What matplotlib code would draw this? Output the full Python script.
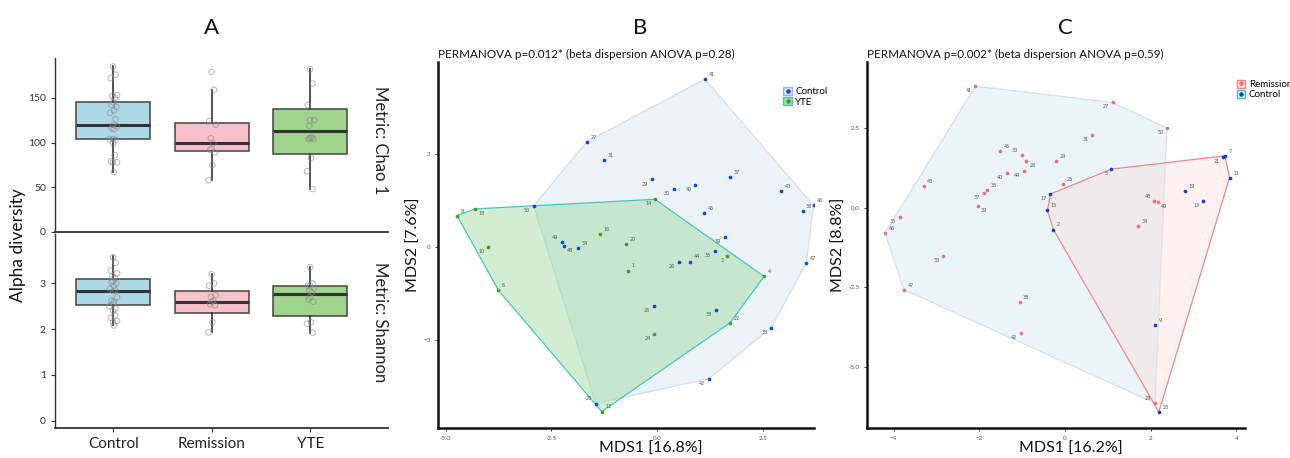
import numpy as np
import matplotlib
matplotlib.use("Agg")
import matplotlib.pyplot as plt
from matplotlib.patches import Patch, Polygon
from matplotlib.lines import Line2D

plt.rcParams['font.family'] = ['Lato', 'DejaVu Sans']

# ---------------- Panel A data ----------------
groups = ["Control", "Remission", "YTE"]
# Chao1 box stats: whislo, q1, med, q3, whishi
chao_stats = {
    "Control":   [66.8, 103.7, 119.7, 145.0, 185.7],
    "Remission": [58.2, 90.6, 99.2, 121.6, 158.8],
    "YTE":       [47.7, 87.6, 113.0, 137.6, 182.7],
}
chao_points = {
    "Control":   [185, 176, 172, 153, 152, 150, 145, 142, 140, 136, 133, 126, 120,
                  118, 116, 115, 104, 104, 103, 99, 86, 79, 78, 78, 67],
    "Remission": [179, 159, 124, 120, 105, 99, 93, 92, 89, 75, 58],
    "YTE":       [182, 166, 142, 125, 119, 106, 105, 104, 104, 83, 68, 48, 125],
}
shan_stats = {
    "Control":   [2.09, 2.52, 2.84, 3.10, 3.60],
    "Remission": [1.93, 2.36, 2.60, 2.83, 3.20],
    "YTE":       [1.91, 2.28, 2.77, 2.95, 3.35],
}
shan_points = {
    "Control":   [3.57, 3.45, 3.28, 3.22, 3.15, 3.12, 3.05, 3.02, 3.0, 2.95, 2.88, 2.85,
                  2.83, 2.7, 2.62, 2.6, 2.55, 2.5, 2.45, 2.4, 2.3, 2.25, 2.18, 2.15, 2.08],
    "Remission": [3.2, 3.0, 2.95, 2.75, 2.7, 2.62, 2.6, 2.55, 2.52, 2.15, 1.93],
    "YTE":       [3.35, 3.0, 2.95, 2.9, 2.85, 2.8, 2.7, 2.65, 2.6, 2.15, 2.12, 1.92, 2.95],
}
jitter_pts = [0.0, 0.03, -0.03, 0.05, -0.01, 0.02, 0.0, -0.02, 0.04, 0.01, -0.04, 0.03, 0.0,
              0.05, -0.02, 0.01, 0.0, -0.05, 0.03, 0.0, 0.02, -0.03, 0.05, 0.0, 0.01]

# ---------------- Panel B data ----------------
b_ctrl_id = [41, 27, 31, 29, 30, 40, 37, 43, 46, 36, 45, 50, 49, 48, 34, 39, 35, 44, 26, 47,
             25, 38, 33, 42, 28]
b_ctrl_x = [1.13, -1.66, -1.25, -0.13, 0.39, 0.90, 1.72, 2.94, 3.70, 3.44, 1.12, -2.92, -2.26,
            -2.21, -1.86, 1.60, 1.36, 0.79, 0.51, 3.53, -0.08, 1.39, 2.70, 1.22, -1.45]
b_ctrl_y = [5.43, 3.41, 2.81, 2.19, 1.88, 2.02, 2.26, 1.83, 1.35, 1.16, 1.11, 1.34, 0.16,
            0.03, -0.03, 0.32, -0.12, -0.46, -0.46, -0.51, -1.88, -2.02, -2.59, -4.24, -5.04]
b_ctrl_lab = ['ur', 'ur', 'ur', 'bl', 'bl', 'bl', 'ur', 'ur', 'ur', 'ur', 'ur', 'bl', 'ul',
              'br', 'ur', 'bl', 'bl', 'ur', 'bl', 'ur', 'bl', 'bl', 'bl', 'bl', 'ul']
b_yte_id = [8, 18, 14, 16, 20, 10, 6, 1, 3, 4, 22, 24, 12]
b_yte_x = [-4.73, -4.30, -0.05, -1.36, -0.74, -3.99, -3.75, -0.69, 1.66, 2.53, 1.73, -0.07, -1.31]
b_yte_y = [1.02, 1.24, 1.55, 0.44, 0.10, 0.0, -1.39, -0.75, -0.29, -0.94, -2.43, -2.81, -5.30]
b_yte_lab = ['ur', 'br', 'bl', 'ur', 'ur', 'bl', 'ur', 'ur', 'bl', 'ur', 'ur', 'bl', 'ur']

# ---------------- Panel C data ----------------
c_red_id = [41, 27, 50, 31, 45, 30, 26, 29, 40, 44, 25, 43, 35, 37, 39, 48, 49, 34, 36, 46,
            33, 47, 38, 42, 28]
c_red_x = [-2.09, 1.11, 2.38, 0.64, -1.52, -1.01, -0.90, -0.20, -1.36, -0.96, -0.05, -3.30,
           -1.82, -1.90, -2.04, 2.08, 2.16, 1.70, -3.85, -4.20, -2.84, -3.76, -1.06, -1.03, 2.10]
c_red_y = [3.82, 3.31, 2.50, 2.28, 1.77, 1.64, 1.48, 1.47, 1.10, 1.14, 0.75, 0.67, 0.55, 0.46,
           0.06, 0.21, 0.17, -0.57, -0.30, -0.80, -1.51, -2.58, -2.97, -3.95, -6.15]
c_red_lab = ['bl', 'bl', 'bl', 'bl', 'ur', 'ul', 'br', 'ur', 'bl', 'bl', 'ur', 'ur', 'ur', 'bl',
             'br', 'ul', 'br', 'ur', 'bl', 'ur', 'bl', 'ur', 'ur', 'bl', 'ul']
c_blue_id = [7, 21, 11, 19, 13, 5, 17, 15, 2, 9, 23]
c_blue_x = [3.73, 3.69, 3.84, 2.81, 3.23, 1.08, -0.34, -0.41, -0.27, 2.11, 2.19]
c_blue_y = [1.63, 1.58, 0.94, 0.52, 0.21, 1.21, 0.43, -0.09, -0.69, -3.68, -6.43]
c_blue_lab = ['ur', 'bl', 'ur', 'ur', 'bl', 'bl', 'bl', 'ur', 'ur', 'ur', 'ur']


def hull(xs, ys):
    pts = sorted(set(zip(xs, ys)))
    def cross(o, a, b):
        return (a[0]-o[0])*(b[1]-o[1]) - (a[1]-o[1])*(b[0]-o[0])
    lower, upper = [], []
    for p in pts:
        while len(lower) >= 2 and cross(lower[-2], lower[-1], p) <= 0:
            lower.pop()
        lower.append(p)
    for p in reversed(pts):
        while len(upper) >= 2 and cross(upper[-2], upper[-1], p) <= 0:
            upper.pop()
        upper.append(p)
    return np.array(lower[:-1] + upper[:-1])


OFFS = {'ur': (2.5, 1.5, 'left', 'bottom'), 'bl': (-2.5, -1.5, 'right', 'top'),
        'ul': (-2.5, 1.5, 'right', 'bottom'), 'br': (2.5, -1.5, 'left', 'top')}


def draw_points(ax, xs, ys, ids, labs, color):
    ax.scatter(xs, ys, s=7, color=color, zorder=5, linewidths=0)
    for x, y, i, l in zip(xs, ys, ids, labs):
        dx, dy, ha, va = OFFS[l]
        ax.annotate(str(i), (x, y), xytext=(dx, dy), textcoords='offset points',
                    ha=ha, va=va, fontsize=3.6, color='#555555', zorder=6,
                    family='DejaVu Sans')


W, H = 1290, 458
fig = plt.figure(figsize=(W/100, H/100), dpi=100)


def axpix(l, t, r, b):
    return fig.add_axes([l/W, 1-b/H, (r-l)/W, (b-t)/H])


# ---------------- Panel A ----------------
box_colors = {"Control": "#add8e6", "Remission": "#f7c0cb", "YTE": "#a0d38c"}
axA1 = axpix(55, 58, 388, 232)
axA2 = axpix(55, 234, 388, 428)
for ax, stats, pts in [(axA1, chao_stats, chao_points), (axA2, shan_stats, shan_points)]:
    bx = []
    for g in groups:
        lo, q1, med, q3, hi = stats[g]
        bx.append(dict(whislo=lo, q1=q1, med=med, q3=q3, whishi=hi, fliers=[], label=g))
    res = ax.bxp(bx, positions=[1, 2, 3], widths=0.75, patch_artist=True, showcaps=False,
                 boxprops=dict(edgecolor='#444444', linewidth=1.1),
                 whiskerprops=dict(color='#333333', linewidth=1.2),
                 medianprops=dict(color='#333333', linewidth=2.2))
    for patch, g in zip(res['boxes'], groups):
        patch.set_facecolor(box_colors[g])
    for k, g in enumerate(groups):
        v = pts[g]
        xs = [k + 1 + jitter_pts[j % len(jitter_pts)] * 0.8 for j in range(len(v))]
        ax.scatter(xs, v, s=16, facecolors='none', edgecolors='#888888', alpha=0.55,
                   linewidths=0.8, zorder=4)
    ax.set_xlim(0.41, 3.79)
    for s in ['top', 'right']:
        ax.spines[s].set_visible(False)
    ax.spines['left'].set_color('#333333')
    ax.spines['bottom'].set_color('#333333')
    ax.spines['left'].set_linewidth(1.0)
    ax.spines['bottom'].set_linewidth(1.3)
    ax.tick_params(axis='y', labelsize=7.5, colors='#333333', length=3, width=0.8)

axA1.set_ylim(0, 194.6)
axA1.set_yticks([0, 50, 100, 150])
axA1.set_xticks([])
axA1.tick_params(axis='x', length=0)
axA2.set_ylim(-0.16, 4.08)
axA2.set_yticks([0, 1, 2, 3])
axA2.set_xticks([1, 2, 3])
axA2.set_xticklabels(groups, fontsize=11, color='#222222')
axA2.tick_params(axis='x', length=3, width=0.8, colors='#333333', labelcolor='#222222')
axA1.text(0.975, 0.53, "Metric: Chao 1", transform=axA1.transAxes, rotation=-90,
          ha='center', va='center', fontsize=12, color='#222222')
axA2.text(0.975, 0.545, "Metric: Shannon", transform=axA2.transAxes, rotation=-90,
          ha='center', va='center', fontsize=12, color='#222222')
fig.text(18/W, 1-245/H, "Alpha diversity", rotation=90, ha='center', va='center',
         fontsize=12.5, color='#111111')
fig.text(211/W, 1-28/H, "A", ha='center', va='center', fontsize=16, color='#111111')
fig.text(640/W, 1-28/H, "B", ha='center', va='center', fontsize=16, color='#111111')
fig.text(1065/W, 1-28/H, "C", ha='center', va='center', fontsize=16, color='#111111')

# ---------------- Panel B ----------------
axB = axpix(438, 62, 814, 428)
hc = hull(b_ctrl_x, b_ctrl_y)
axB.add_patch(Polygon(hc, closed=True, facecolor='#cfe3ee', alpha=0.4,
                      edgecolor='#a6b8c8', linewidth=0.9, zorder=1))
hy = hull(b_yte_x, b_yte_y)
axB.add_patch(Polygon(hy, closed=True, facecolor='#8fd68f', alpha=0.4,
                      edgecolor='none', zorder=2))
axB.add_patch(Polygon(hy, closed=True, facecolor='none',
                      edgecolor='#45c6c6', linewidth=0.9, zorder=3))
draw_points(axB, b_ctrl_x, b_ctrl_y, b_ctrl_id, b_ctrl_lab, '#0d47e0')
draw_points(axB, b_yte_x, b_yte_y, b_yte_id, b_yte_lab, '#4a9a1c')
axB.set_xlim(-5.18, 3.71)
axB.set_ylim(-5.83, 5.98)
axB.set_xticks([-5.0, -2.5, 0.0, 2.5])
axB.set_xticklabels(["-5.0", "-2.5", "0.0", "2.5"])
axB.set_yticks([-3, 0, 3])
axB.set_xlabel("MDS1 [16.8%]", fontsize=11.5, color='#111111', va='center')
axB.set_ylabel("MDS2 [7.6%]", fontsize=11.5, color='#111111')
axB.set_title("PERMANOVA p=0.012* (beta dispersion ANOVA p=0.28)", loc='left',
              fontsize=8.4, pad=3, color='#111111')
legB = [(Patch(facecolor='#cfe3ee', edgecolor='#a6b8c8'),
         Line2D([], [], marker='o', ls='none', color='#0d47e0', markersize=2.2)),
        (Patch(facecolor='#a6d9a6', edgecolor='#45c6c6'),
         Line2D([], [], marker='o', ls='none', color='#4a9a1c', markersize=2.2))]
axB.legend(legB, ["Control", "YTE"], loc='upper left', bbox_to_anchor=(0.905, 0.945),
           frameon=False, fontsize=7, handlelength=0.9, handleheight=0.9,
           handletextpad=0.35, labelspacing=0.1, borderpad=0)

# ---------------- Panel C ----------------
axC = axpix(867, 62, 1245, 428)
hr = hull(c_red_x, c_red_y)
axC.add_patch(Polygon(hr, closed=True, facecolor='#cfe5ef', alpha=0.4,
                      edgecolor='#a3bdd8', linewidth=0.9, zorder=1))
hb = hull(c_blue_x, c_blue_y)
axC.add_patch(Polygon(hb, closed=True, facecolor='#fcdcdc', alpha=0.4,
                      edgecolor='none', zorder=2))
axC.add_patch(Polygon(hb, closed=True, facecolor='none',
                      edgecolor='#f28888', linewidth=0.9, zorder=3))
draw_points(axC, c_red_x, c_red_y, c_red_id, c_red_lab, '#ef7070')
draw_points(axC, c_blue_x, c_blue_y, c_blue_id, c_blue_lab, '#0d3fd8')
axC.set_xlim(-4.62, 4.20)
axC.set_ylim(-6.93, 4.58)
axC.set_xticks([-4, -2, 0, 2, 4])
axC.set_yticks([-5.0, -2.5, 0.0, 2.5])
axC.set_yticklabels(["-5.0", "-2.5", "0.0", "2.5"])
axC.set_xlabel("MDS1 [16.2%]", fontsize=11.5, color='#111111', va='center')
axC.set_ylabel("MDS2 [8.8%]", fontsize=11.5, color='#111111')
axC.set_title("PERMANOVA p=0.002* (beta dispersion ANOVA p=0.59)", loc='left',
              fontsize=8.4, pad=3, color='#111111')
legC = [(Patch(facecolor='#fde4e4', edgecolor='#f28888'),
         Line2D([], [], marker='o', ls='none', color='#ef7070', markersize=2.2)),
        (Patch(facecolor='#e3eef4', edgecolor='#45c6c6'),
         Line2D([], [], marker='o', ls='none', color='#0d3fd8', markersize=2.2))]
axC.legend(legC, ["Remission", "Control"], loc='upper left', bbox_to_anchor=(0.965, 0.965),
           frameon=False, fontsize=7, handlelength=0.9, handleheight=0.9,
           handletextpad=0.35, labelspacing=0.1, borderpad=0)

for ax in (axB, axC):
    for s in ['top', 'right']:
        ax.spines[s].set_visible(False)
    ax.spines['left'].set_linewidth(1.8)
    ax.spines['bottom'].set_linewidth(1.8)
    ax.spines['left'].set_color('#111111')
    ax.spines['bottom'].set_color('#111111')
    ax.tick_params(labelsize=4.5, colors='#333333', labelcolor='#555555', length=2, width=0.6)
axB.xaxis.set_label_coords(0.566, -0.058)
axC.xaxis.set_label_coords(0.54, -0.058)
axB.yaxis.set_label_coords(-0.045, 0.5)
axC.yaxis.set_label_coords(-0.055, 0.5)

fig.savefig("out.png", dpi=100)
